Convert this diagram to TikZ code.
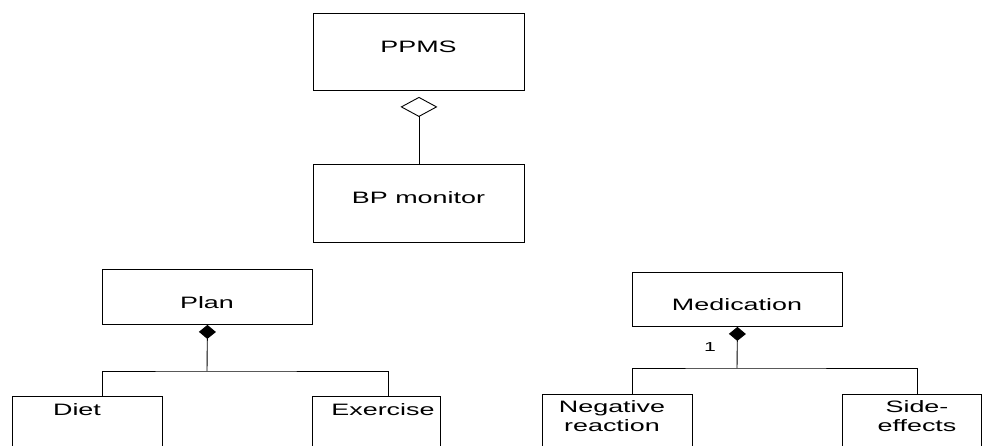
\documentclass[tikz,border=0pt]{standalone}
\usepackage{fontspec}
\newfontfamily\diagfont[FakeStretch=1.63]{Liberation Sans}
\usetikzlibrary{arrows.meta}
\begin{document}
\begin{tikzpicture}[x=1pt,y=-1pt,
  classbox/.style={draw=black, line width=0.9pt, fill=white, rectangle,
    inner sep=0pt, anchor=north west},
  txt/.style={inner sep=0pt, align=center, font=\diagfont\fontsize{16.5}{19}\selectfont},
  multtxt/.style={inner sep=0pt, font=\diagfont\fontsize{13}{15}\selectfont},
  link/.style={draw=black, line width=0.9pt},
  aggregation/.style={link, -{Diamond[open, length=20pt, width=37pt]}},
  composition/.style={link, -{Diamond[fill=black, length=14pt, width=17pt]}}
]
% page area
\fill[white] (0,0) rectangle (984,445);
\clip (0,0) rectangle (984,445);

% class boxes
\node[classbox, minimum width=211pt, minimum height=77pt] (ppms) at (313,13) {};
\node[classbox, minimum width=211pt, minimum height=78pt] (bp) at (313,164) {};
\node[classbox, minimum width=210pt, minimum height=55pt] (plan) at (102,269) {};
\node[classbox, minimum width=210pt, minimum height=54pt] (med) at (632,272) {};
\node[classbox, minimum width=150pt, minimum height=80pt] (diet) at (12,396) {};
\node[classbox, minimum width=128pt, minimum height=80pt] (exercise) at (312,396) {};
\node[classbox, minimum width=150pt, minimum height=80pt] (negative) at (542,394) {};
\node[classbox, minimum width=139pt, minimum height=80pt] (side) at (842,394) {};

% class names
\node[txt] (ppms-t) at (418.5,47) {PPMS};
\node[txt] (bp-t) at (418.5,198) {BP monitor};
\node[txt] (plan-t) at (207,303) {Plan};
\node[txt] (med-t) at (737,305) {Medication};
\node[txt] (diet-t) at (77,410) {Diet};
\node[txt] (exercise-t) at (383,410) {Exercise};
\node[txt] (negative-t) at (612,416.5) {Negative\\reaction};
\node[txt] (side-t) at (917,416.5) {Side-\\effects};

% aggregation: PPMS <>-- BP monitor
\draw[aggregation, shorten >=6pt] (bp.north) -- (ppms.south);

% composition: Plan <#>-- Diet, Exercise
\coordinate (plan-j) at (207,371);
\coordinate (diet-in) at (102,396);
\coordinate (exercise-in) at (388,396);
\draw[composition] (plan-j) -- (plan.south);
\draw[link] (diet-in) |- (plan-j) -| (exercise-in);

% composition: Medication <#>-- Negative reaction, Side-effects
\coordinate (med-j) at (737,368);
\coordinate (negative-in) at (632,394);
\coordinate (side-in) at (917,394);
\draw[composition] (med-j) -- (med.south);
\draw[link] (negative-in) |- (med-j) -| (side-in);
\node[multtxt] (med-mult) at (710,347) {1};
\end{tikzpicture}
\end{document}
